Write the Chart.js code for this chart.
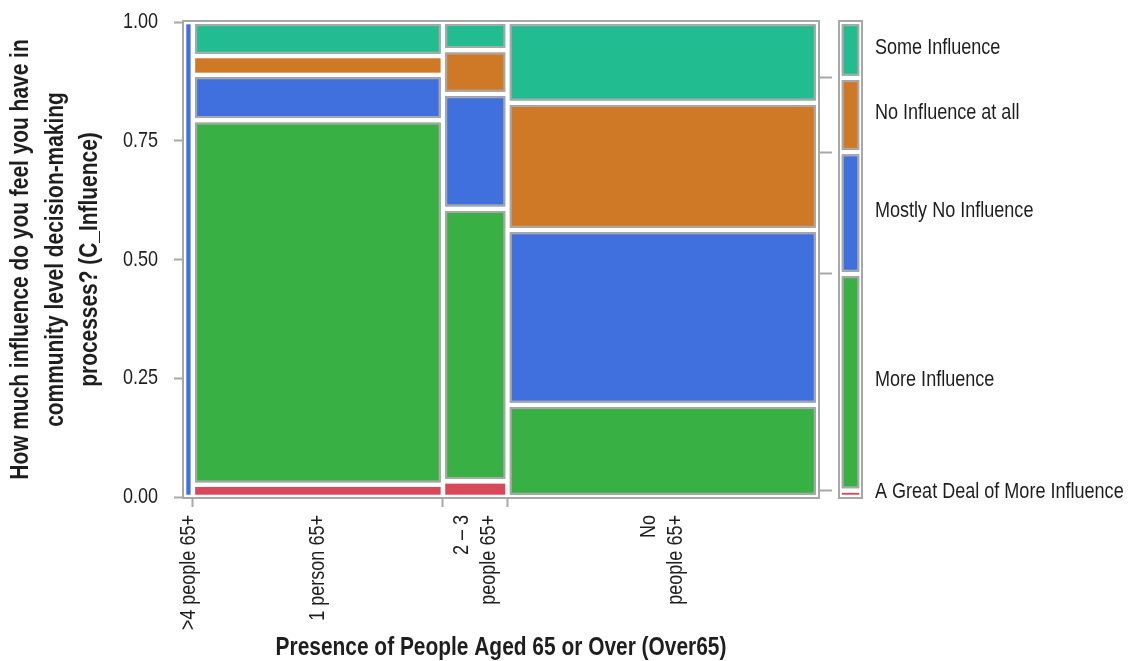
<!DOCTYPE html>
<html>
<head>
<meta charset="utf-8">
<title>Influence on community decisions by presence of people aged 65+</title>
<script src="https://cdn.jsdelivr.net/npm/chart.js@4.4.1/dist/chart.umd.min.js"></script>
<style>
  html, body { margin: 0; padding: 0; background: #ffffff; }
  #wrap { width: 1130px; height: 661px; }
</style>
</head>
<body>
<div id="wrap"><canvas id="mosaic" width="1130" height="661"></canvas></div>
<script>
// Household groups along the x axis (left to right) and their share of respondents
const categories = ['>4 people 65+', '1 person 65+', '2 – 3 people 65+', 'No people 65+'];
const categoryLines = [['>4 people 65+'], ['1 person 65+'], ['2 – 3', 'people 65+'], ['No', 'people 65+']];
const columnShares = [0.014, 0.3944, 0.1019, 0.4897];

// Response levels, stacked bottom to top
const responses = ['A Great Deal of More Influence', 'More Influence', 'Mostly No Influence', 'No Influence at all', 'Some Influence'];

// Share of each response within each household group
const greatDeal = [0, 0.026, 0.033, 0];
const moreInfluence = [0, 0.767, 0.574, 0.194];
const mostlyNo = [1, 0.0955, 0.2415, 0.368];
const noneAtAll = [0, 0.040, 0.092, 0.268];
const someInfluence = [0, 0.0717, 0.060, 0.170];

const yTickValues = [0, 0.25, 0.5, 0.75, 1];

const xTitle = 'Presence of People Aged 65 or Over (Over65)';
const yTitle = ['How much influence do you feel you have in', 'community level decision-making', 'processes? (C_Influence)'];

const series = [greatDeal, moreInfluence, mostlyNo, noneAtAll, someInfluence];
const colors = ['#D9495A', '#39B044', '#4070DE', '#CF7926', '#21BD91'];

const FONT = "'Liberation Sans', Arial, sans-serif";
const NARROW = 0.82;          // horizontal squeeze for a narrow sans look
const TEXT = '#1e1e1e';
const LINE = '#A8A8A8';

// Cumulative column edges on the 0..1 x scale
const columnEdges = columnShares.reduce((acc, s) => { acc.push(acc[acc.length - 1] + s); return acc; }, [0]);
// Overall response distribution, weighted by column share
const marginal = series.map(s => s.reduce((a, v, i) => a + v * columnShares[i], 0));
const marginalTotal = marginal.reduce((a, b) => a + b, 0);
const marginalShares = marginal.map(m => m / marginalTotal);
const marginalEdges = marginalShares.reduce((acc, s) => { acc.push(acc[acc.length - 1] + s); return acc; }, [0]);

const GAP = 2.3;
function drawTile(ctx, x0, x1, yTop, yBottom, color) {
  const l = x0 + GAP, r = x1 - GAP, t = yTop + GAP, b = yBottom - GAP;
  if (r - l <= 0.5 || b - t <= 0.5) return;
  ctx.fillStyle = color;
  ctx.fillRect(l, t, r - l, b - t);
  if (Math.min(r - l, b - t) >= 16) {
    ctx.strokeStyle = LINE;
    ctx.lineWidth = 2;
    ctx.strokeRect(l + 1, t + 1, r - l - 2, b - t - 2);
  }
}

function drawLabel(ctx, txt, x, y, size, bold, align, angle) {
  ctx.save();
  ctx.translate(x, y);
  if (angle) ctx.rotate(angle);
  ctx.scale(NARROW, 1);
  ctx.font = (bold ? 'bold ' : '') + size + 'px ' + FONT;
  ctx.fillStyle = TEXT;
  ctx.textAlign = align;
  ctx.textBaseline = 'middle';
  ctx.fillText(txt, 0, 0);
  ctx.restore();
}

const mosaicPlugin = {
  id: 'mosaic',
  afterDraw(chart) {
    const { ctx, chartArea } = chart;
    const xs = chart.scales.x, ys = chart.scales.y;
    ctx.save();

    // tiles: one column per household group, stacked response shares
    categories.forEach((cat, i) => {
      const x0 = xs.getPixelForValue(columnEdges[i]);
      const x1 = xs.getPixelForValue(columnEdges[i + 1]);
      let cum = 0;
      series.forEach((s, k) => {
        const v0 = cum, v1 = cum + s[i];
        cum = v1;
        if (s[i] <= 0) return;
        drawTile(ctx, x0, x1, ys.getPixelForValue(v1), ys.getPixelForValue(v0), colors[k]);
      });
    });

    // frame around the plot
    ctx.strokeStyle = LINE;
    ctx.lineWidth = 2;
    ctx.strokeRect(chartArea.left - 1, chartArea.top - 1, chartArea.width + 2, chartArea.height + 2);

    // y tick labels
    ys.ticks.forEach(t => {
      drawLabel(ctx, Number(t.value).toFixed(2), chartArea.left - 26, ys.getPixelForValue(t.value), 22, false, 'right', 0);
    });

    // y axis title, three lines
    const midY = (chartArea.top + chartArea.bottom) / 2;
    yTitle.forEach((line, j) => {
      drawLabel(ctx, line, 21 + j * 34.5, midY, 25.5, true, 'center', -Math.PI / 2);
    });

    // category labels, rotated, centred under each column
    const lineGap = 27;
    categoryLines.forEach((lines, i) => {
      const cx = (xs.getPixelForValue(columnEdges[i]) + xs.getPixelForValue(columnEdges[i + 1])) / 2;
      lines.forEach((txt, j) => {
        drawLabel(ctx, txt, cx + (j - (lines.length - 1) / 2) * lineGap, chartArea.bottom + 18, 22, false, 'right', -Math.PI / 2);
      });
    });

    // x axis title
    drawLabel(ctx, xTitle, (chartArea.left + chartArea.right) / 2, 648, 25.5, true, 'center', 0);

    // overall distribution bar with response labels
    const lx0 = chartArea.right + 20, lx1 = chartArea.right + 45;
    ctx.strokeStyle = LINE;
    ctx.lineWidth = 2;
    ctx.strokeRect(lx0 + 1, chartArea.top - 1, lx1 - lx0 - 2, chartArea.height + 2);
    responses.forEach((name, k) => {
      const yTop = ys.getPixelForValue(marginalEdges[k + 1]);
      const yBot = ys.getPixelForValue(marginalEdges[k]);
      drawTile(ctx, lx0 + 1.5, lx1 - 1.5, yTop, yBot, colors[k]);
      drawLabel(ctx, name, lx1 + 12, (yTop + yBot) / 2 - 2, 22, false, 'left', 0);
    });

    ctx.restore();
  }
};

new Chart(document.getElementById('mosaic'), {
  type: 'scatter',
  data: { datasets: [] },
  plugins: [mosaicPlugin],
  options: {
    responsive: false,
    animation: false,
    devicePixelRatio: 1,
    layout: { padding: { top: 22, right: 298, bottom: 0, left: 0 } },
    plugins: { legend: { display: false }, tooltip: { enabled: false } },
    scales: {
      x: {
        type: 'linear', min: 0, max: 1,
        afterBuildTicks: s => { s.ticks = columnEdges.slice(1, -1).map(v => ({ value: v })); },
        afterFit: s => { s.height = 164; },
        border: { display: false },
        grid: { drawOnChartArea: false, drawTicks: true, tickLength: 10, tickWidth: 2, tickColor: LINE },
        ticks: { autoSkip: false, callback: () => '', padding: 0 }
      },
      y: {
        type: 'linear', position: 'left', min: 0, max: 1,
        afterBuildTicks: s => { s.ticks = yTickValues.map(v => ({ value: v })); },
        afterFit: s => { s.width = 184; },
        border: { display: false },
        grid: { drawOnChartArea: false, drawTicks: true, tickLength: 10, tickWidth: 2, tickColor: LINE },
        ticks: { callback: () => '', padding: 0 }
      },
      y2: {
        type: 'linear', position: 'right', min: 0, max: 1,
        afterBuildTicks: s => { s.ticks = marginalEdges.slice(1, -1).map(v => ({ value: v })); },
        afterFit: s => { s.width = 14; },
        border: { display: false },
        grid: { drawOnChartArea: false, drawTicks: true, tickLength: 14, tickWidth: 2, tickColor: LINE },
        ticks: { callback: () => '', padding: 0 }
      }
    }
  }
});
</script>
</body>
</html>
